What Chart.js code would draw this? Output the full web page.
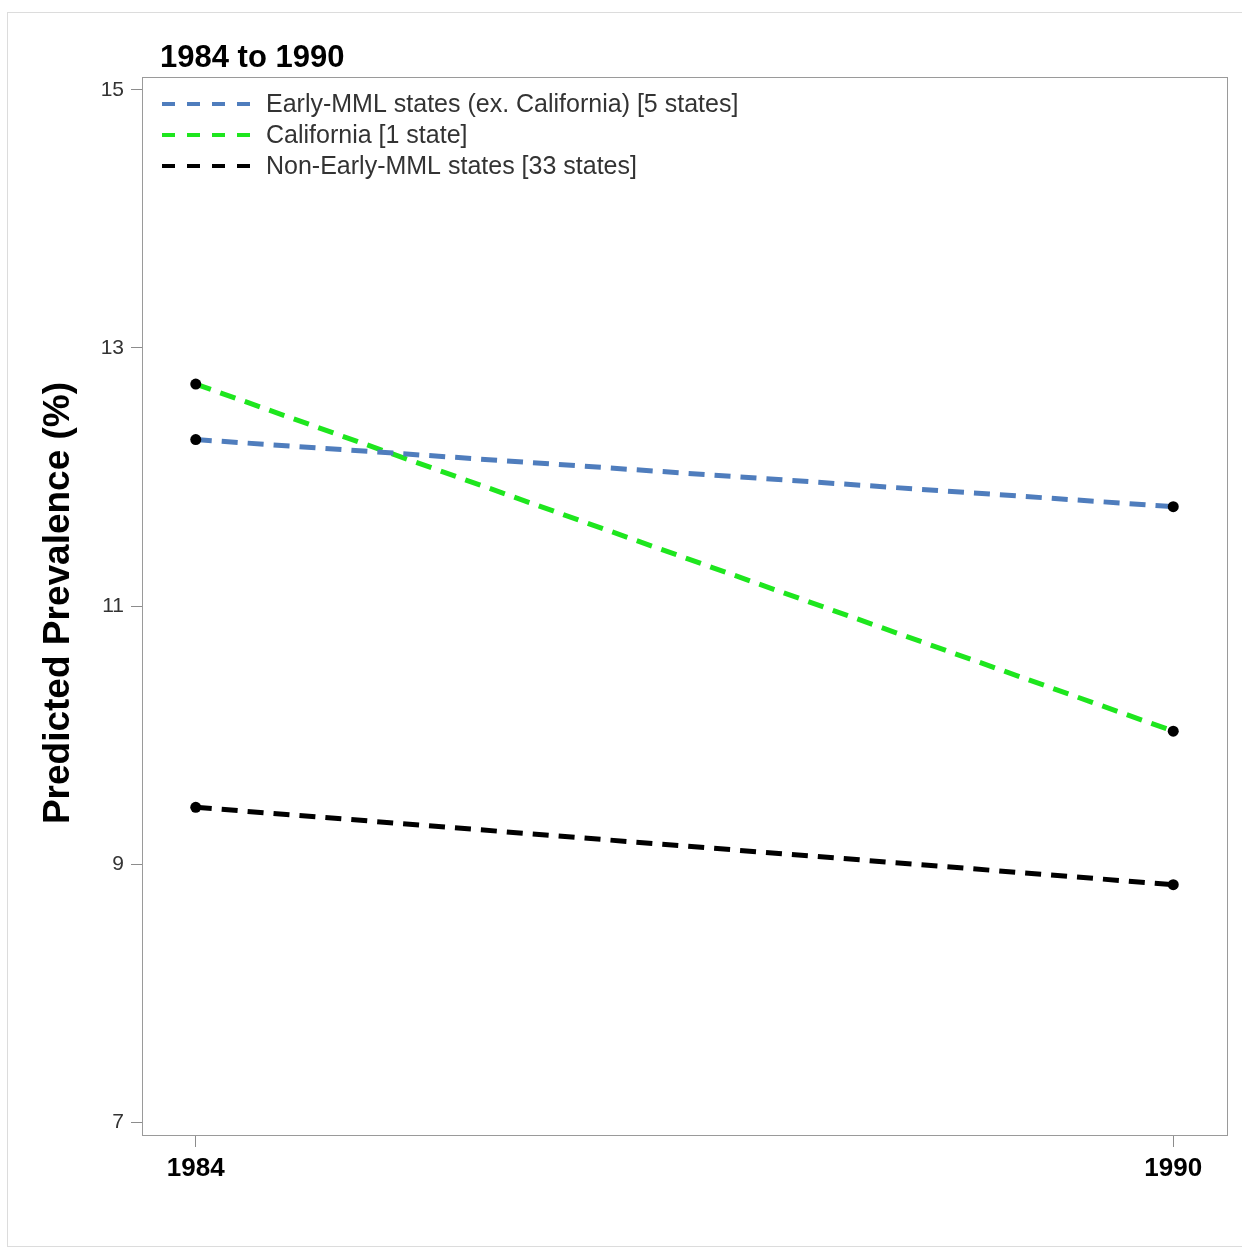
<!DOCTYPE html>
<html><head><meta charset="utf-8">
<script src="https://cdn.jsdelivr.net/npm/chart.js@4.4.1/dist/chart.umd.min.js"></script>
<style>html,body{margin:0;padding:0;background:#fff;overflow:hidden}#wrap{position:relative;width:1242px;height:1251px}</style>
</head><body><div id="wrap"><canvas id="c"></canvas></div>
<script>
const years = [1984, 1990];
const seriesLabels = ['Early-MML states (ex. California) [5 states]', 'California [1 state]', 'Non-Early-MML states [33 states]'];
const earlyMML = [12.29, 11.77];
const california = [12.72, 10.03];
const nonEarlyMML = [9.44, 8.84];
const yTicks = [7, 9, 11, 13, 15];
const xTicks = [1984, 1990];
const chartTitle = '1984 to 1990';
const yAxisTitle = 'Predicted Prevalence (%)';

const FONT = '"Liberation Sans", Arial, Helvetica, sans-serif';
const colors = ['#4f7dbd', '#1ee61e', '#000000'];
const seriesValues = [earlyMML, california, nonEarlyMML];

const datasets = seriesValues.map((vals, i) => ({
  label: seriesLabels[i],
  data: years.map((yr, j) => ({ x: yr, y: vals[j] })),
  borderColor: colors[i],
  borderWidth: 5,
  borderDash: [16, 10],
  pointRadius: 5.5,
  pointHoverRadius: 5.5,
  pointBackgroundColor: '#000',
  pointBorderWidth: 0,
  fill: false,
  tension: 0
}));

const decor = {
  id: 'decor',
  beforeDatasetsDraw(chart) {
    const { ctx, chartArea: a } = chart;
    ctx.save();
    ctx.strokeStyle = '#9a9a9a';
    ctx.lineWidth = 1;
    ctx.strokeRect(a.left + 0.5, a.top + 0.5, a.right - a.left, a.bottom - a.top);
    ctx.restore();
  },
  afterDraw(chart) {
    const { ctx, chartArea: a } = chart;
    ctx.save();
    ctx.strokeStyle = '#dcdcdc';
    ctx.lineWidth = 1;
    ctx.strokeRect(7.5, 12.5, 1260, 1234);
    ctx.fillStyle = '#000';
    ctx.font = 'bold 31px ' + FONT;
    ctx.textAlign = 'left';
    ctx.textBaseline = 'alphabetic';
    ctx.fillText(chartTitle, 160, 67);
    ctx.save();
    ctx.translate(69, (a.top + a.bottom) / 2 - 3);
    ctx.rotate(-Math.PI / 2);
    ctx.font = 'bold 37px ' + FONT;
    ctx.textAlign = 'center';
    ctx.fillText(yAxisTitle, 0, 0);
    ctx.restore();
    const ds = chart.data.datasets;
    ds.forEach((d, i) => {
      const y = 104 + i * 31;
      ctx.beginPath();
      ctx.setLineDash([13, 12]);
      ctx.strokeStyle = d.borderColor;
      ctx.lineWidth = 4;
      ctx.moveTo(162, y);
      ctx.lineTo(250, y);
      ctx.stroke();
      ctx.setLineDash([]);
      ctx.fillStyle = '#333';
      ctx.font = '25px ' + FONT;
      ctx.textAlign = 'left';
      ctx.textBaseline = 'middle';
      ctx.fillText(d.label, 266, y + 1);
    });
    ctx.restore();
  }
};

new Chart(document.getElementById('c'), {
  type: 'line',
  data: { datasets },
  plugins: [decor],
  options: {
    responsive: true,
    maintainAspectRatio: false,
    animation: false,
    events: [],
    layout: { padding: { top: 77, right: 15, left: 0, bottom: 0 } },
    plugins: { legend: { display: false }, title: { display: false }, tooltip: { enabled: false } },
    scales: {
      x: {
        type: 'linear',
        min: 1983.67,
        max: 1990.33,
        afterBuildTicks: s => { s.ticks = xTicks.map(v => ({ value: v })); },
        afterFit: s => { s.height = 116; },
        grid: { drawOnChartArea: false, drawTicks: true, tickLength: 12, color: '#8c8c8c' },
        border: { display: false },
        ticks: { font: { family: FONT, size: 26, weight: 'bold' }, color: '#000', padding: 6, maxRotation: 0, callback: v => String(v) }
      },
      y: {
        type: 'linear',
        min: 6.9,
        max: 15.1,
        afterBuildTicks: s => { s.ticks = yTicks.map(v => ({ value: v })); },
        afterFit: s => { s.width = 142; },
        grid: { drawOnChartArea: false, drawTicks: true, tickLength: 11, color: '#8c8c8c' },
        border: { display: false },
        ticks: { font: { family: FONT, size: 21 }, color: '#333', padding: 7, callback: v => String(v) }
      }
    }
  }
});
</script></body></html>
